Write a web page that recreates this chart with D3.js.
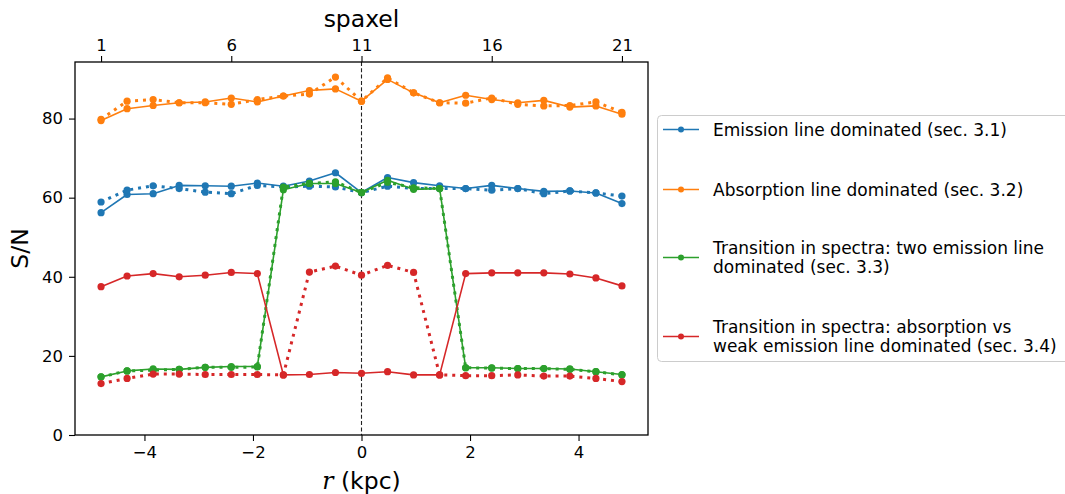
<!DOCTYPE html>
<html>
<head>
<meta charset="utf-8">
<script src="https://cdn.jsdelivr.net/npm/d3@7"></script>
<style>
  html, body { margin: 0; padding: 0; background: #fff; }
  svg { display: block; font-family: "DejaVu Sans", sans-serif; }
</style>
</head>
<body>
<svg id="chart" width="1065" height="494"></svg>
<script>
// ---- data ----
const r = [-4.8, -4.32, -3.84, -3.36, -2.88, -2.4, -1.92, -1.44, -0.96, -0.48, 0,
           0.48, 0.96, 1.44, 1.92, 2.4, 2.88, 3.36, 3.84, 4.32, 4.8];
const spaxelTicks = [1, 6, 11, 16, 21];
const rTicks = [-4, -2, 0, 2, 4];
const yTicks = [0, 20, 40, 60, 80];

const blueSolid   = [56.2, 60.8, 61.0, 63.1, 63.0, 62.9, 63.7, 62.9, 64.2, 66.3, 61.3, 65.1, 63.8, 63.0, 62.3, 63.1, 62.3, 61.6, 61.7, 61.2, 58.5];
const blueDotted  = [58.9, 61.9, 63.0, 62.3, 61.4, 61.0, 63.1, 62.7, 62.9, 62.7, 61.3, 62.9, 62.3, 62.3, 62.3, 61.9, 62.3, 61.0, 61.7, 61.2, 60.4];
const orangeSolid = [79.5, 82.5, 83.3, 84.0, 84.2, 85.2, 84.2, 85.7, 87.1, 87.5, 84.4, 89.9, 86.5, 84.0, 85.9, 84.8, 84.0, 84.6, 82.9, 83.2, 81.1];
const orangeDotted= [79.8, 84.4, 84.8, 84.0, 84.0, 83.6, 84.8, 85.7, 86.2, 90.5, 84.4, 90.3, 86.5, 84.0, 83.9, 85.2, 83.6, 83.2, 83.3, 84.2, 81.6];
const greenSolid  = [14.7, 16.2, 16.7, 16.6, 17.1, 17.3, 17.3, 62.0, 63.6, 63.6, 61.3, 64.4, 62.1, 62.3, 17.0, 17.0, 16.8, 16.8, 16.7, 16.0, 15.3];
const greenDotted = [14.7, 16.2, 16.4, 16.6, 17.1, 17.1, 17.2, 62.7, 63.6, 64.0, 61.3, 63.9, 62.5, 62.3, 17.0, 16.9, 16.8, 16.8, 16.6, 16.0, 15.2];
const redSolid    = [37.5, 40.2, 40.8, 40.0, 40.4, 41.1, 40.8, 15.2, 15.3, 15.8, 15.6, 16.0, 15.2, 15.2, 40.8, 41.0, 41.0, 41.0, 40.7, 39.7, 37.7];
const redDotted   = [13.0, 14.3, 15.4, 15.4, 15.3, 15.3, 15.3, 15.2, 41.2, 42.7, 40.4, 42.9, 41.1, 15.2, 15.0, 15.0, 15.2, 14.9, 14.9, 14.3, 13.5];

const seriesNames = [
  ["Emission line dominated (sec. 3.1)"],
  ["Absorption line dominated (sec. 3.2)"],
  ["Transition in spectra: two emission line", "dominated (sec. 3.3)"],
  ["Transition in spectra: absorption vs", "weak emission line dominated (sec. 3.4)"]
];
const colors = ["#1f77b4", "#ff7f0e", "#2ca02c", "#d62728"];
const solidSets = [blueSolid, orangeSolid, greenSolid, redSolid];
const dottedSets = [blueDotted, orangeDotted, greenDotted, redDotted];

// ---- layout ----
const svg = d3.select("#chart");
const L = 75, T = 62, R = 648, B = 435;
const x = d3.scaleLinear().domain([-5.28, 5.28]).range([L, R]);
const xTop = d3.scaleLinear().domain([0, 22]).range([L, R]);
const y = d3.scaleLinear().domain([0, 94.3]).range([B, T]);

// vertical dashed line at r = 0
svg.append("line")
  .attr("x1", x(0)).attr("x2", x(0)).attr("y1", T).attr("y2", B)
  .attr("stroke", "#222").attr("stroke-width", 1.1)
  .attr("stroke-dasharray", "4,2.3");

const line = d3.line().x((d, i) => x(r[i])).y(d => y(d));

colors.forEach((c, k) => {
  const g = svg.append("g");
  // solid
  g.append("path").datum(solidSets[k])
    .attr("d", line).attr("fill", "none").attr("stroke", c)
    .attr("stroke-width", 1.6).attr("stroke-linejoin", "round");
  g.selectAll("circle.s").data(solidSets[k]).enter().append("circle")
    .attr("cx", (d, i) => x(r[i])).attr("cy", d => y(d)).attr("r", 3.6).attr("fill", c);
  // dotted
  g.append("path").datum(dottedSets[k])
    .attr("d", line).attr("fill", "none").attr("stroke", c)
    .attr("stroke-width", 3).attr("stroke-dasharray", "3,4.95");
  g.selectAll("circle.d").data(dottedSets[k]).enter().append("circle")
    .attr("cx", (d, i) => x(r[i])).attr("cy", d => y(d)).attr("r", 3.6).attr("fill", c);
});

// frame
svg.append("rect").attr("x", L).attr("y", T).attr("width", R - L).attr("height", B - T)
  .attr("fill", "none").attr("stroke", "#000").attr("stroke-width", 1.3);

function styleAxis(g) {
  g.select(".domain").remove();
  g.selectAll(".tick line").attr("stroke", "#000").attr("stroke-width", 1.1);
  g.selectAll(".tick text").attr("fill", "#000").style("font-size", "16.5px")
    .style("font-family", "DejaVu Sans");
}

svg.append("g").attr("transform", `translate(0,${B})`)
  .call(d3.axisBottom(x).tickValues(rTicks).tickSize(6).tickPadding(5)
        .tickFormat(d => d < 0 ? "\u2212" + Math.abs(d) : d))
  .call(styleAxis);
svg.append("g").attr("transform", `translate(0,${T})`)
  .call(d3.axisTop(xTop).tickValues(spaxelTicks).tickSize(6).tickPadding(5))
  .call(styleAxis);
svg.append("g").attr("transform", `translate(${L},0)`)
  .call(d3.axisLeft(y).tickValues(yTicks).tickSize(6).tickPadding(6))
  .call(styleAxis);

// axis labels
svg.append("text").attr("x", (L + R) / 2).attr("y", 27).attr("text-anchor", "middle")
  .style("font-size", "23.5px").text("spaxel");
const xl = svg.append("text").attr("x", (L + R) / 2).attr("y", 489).attr("text-anchor", "middle")
  .style("font-size", "23.5px");
xl.append("tspan").style("font-family", "DejaVu Serif").style("font-style", "italic").text("r");
xl.append("tspan").text(" (kpc)");
svg.append("text").attr("transform", `translate(28,${(T + B) / 2}) rotate(-90)`)
  .attr("text-anchor", "middle").style("font-size", "23.5px").text("S/N");

// legend
const lg = svg.append("g");
lg.append("rect").attr("x", 657.5).attr("y", 115.5).attr("width", 430).attr("height", 246)
  .attr("rx", 4).attr("fill", "#fff").attr("fill-opacity", 0.8)
  .attr("stroke", "#cccccc").attr("stroke-width", 1);
const entryY = [129.5, 189.5, 257.5, 336.5];
const lh = 19;
seriesNames.forEach((lines, k) => {
  const cy = entryY[k];
  lg.append("line").attr("x1", 663).attr("x2", 699).attr("y1", cy).attr("y2", cy)
    .attr("stroke", colors[k]).attr("stroke-width", 1.6);
  lg.append("circle").attr("cx", 681).attr("cy", cy).attr("r", 3).attr("fill", colors[k]);
  const t = lg.append("text").attr("x", 713).style("font-size", "17px").attr("fill", "#000");
  const n = lines.length;
  lines.forEach((s, j) => {
    t.append("tspan").attr("x", 713)
      .attr("y", cy + (j - (n - 1) / 2) * lh).attr("dy", "0.36em").text(s);
  });
});
</script>
</body>
</html>
